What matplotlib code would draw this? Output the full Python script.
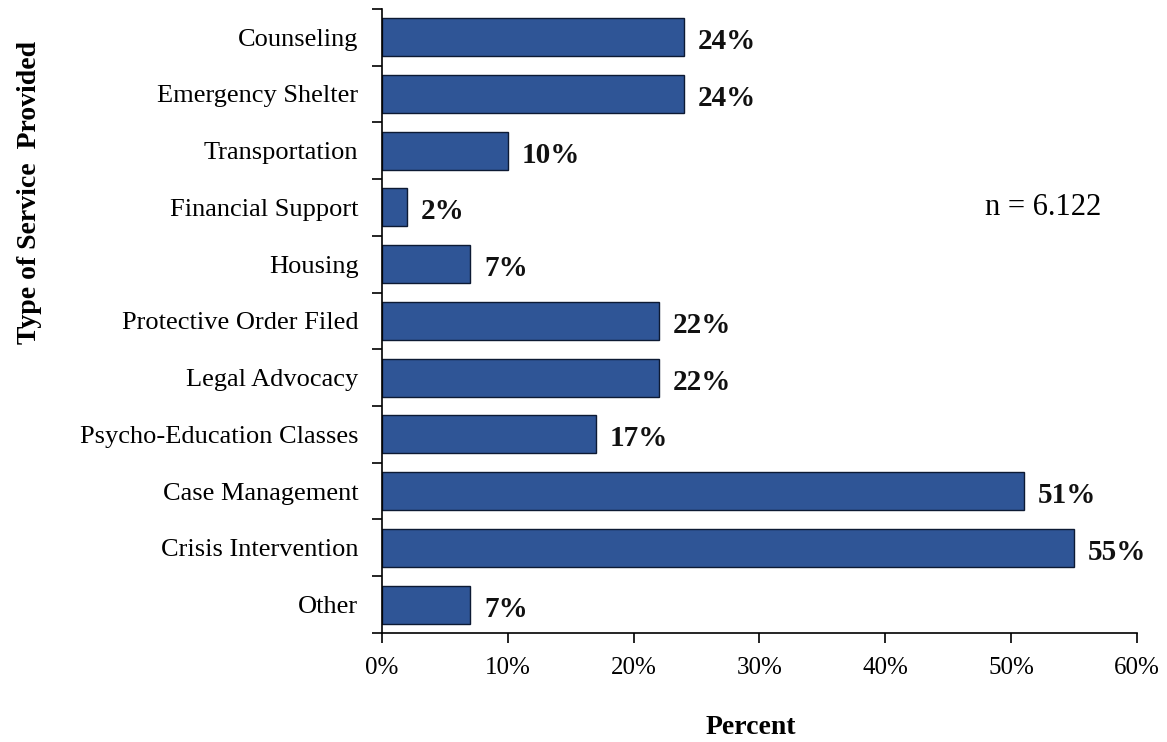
import matplotlib.pyplot as plt
import numpy as np
from matplotlib.ticker import PercentFormatter

# service categories, top to bottom
services = ["Counseling", "Emergency Shelter", "Transportation", "Financial Support",
            "Housing", "Protective Order Filed", "Legal Advocacy",
            "Psycho-Education Classes", "Case Management", "Crisis Intervention", "Other"]
percents = [24, 24, 10, 2, 7, 22, 22, 17, 51, 55, 7]

plt.rcParams['font.family'] = ['Liberation Serif', 'DejaVu Serif']

fig = plt.figure(figsize=(11.67, 7.42), dpi=100)
ax = fig.add_axes([0.3273, 0.147, 0.647, 0.841])

y = np.arange(len(services))
ax.barh(y, percents, height=0.67, color="#2f5596", edgecolor="#0d1a33", linewidth=1.0)

for yi, p in zip(y, percents):
    ax.text(p + 1.1, yi + 0.08, f"{p}%", va="center", ha="left",
            fontsize=21, fontweight="bold", color="#111111")

ax.set_ylim(len(services) - 0.5, -0.5)
ax.set_xlim(0, 60)

# category labels at bar centres, tick marks between categories
ax.set_yticks(y)
ax.set_yticklabels(services, fontsize=19)
ax.tick_params(axis="y", which="major", length=0, pad=17)
ax.set_yticks(np.arange(-0.5, len(services)), minor=True)
ax.tick_params(axis="y", which="minor", length=7, direction="out", width=1.2)

ax.set_xticks(np.arange(0, 61, 10))
ax.xaxis.set_major_formatter(PercentFormatter(decimals=0))
ax.tick_params(axis="x", labelsize=18, length=7, width=1.2, direction="out", pad=10)

for s in ["top", "right"]:
    ax.spines[s].set_visible(False)
for s in ["left", "bottom"]:
    ax.spines[s].set_linewidth(1.2)

ax.text(52.5, 3.0, "n = 6.122", fontsize=22, ha="center", va="center")

fig.text(0.643, 0.02, "Percent", fontsize=20, fontweight="bold", ha="center", va="center")
fig.text(0.025, 0.74, "Type of Service  Provided", fontsize=20, fontweight="bold",
         ha="center", va="center", rotation=90)

fig.savefig("out.png", dpi=100)
